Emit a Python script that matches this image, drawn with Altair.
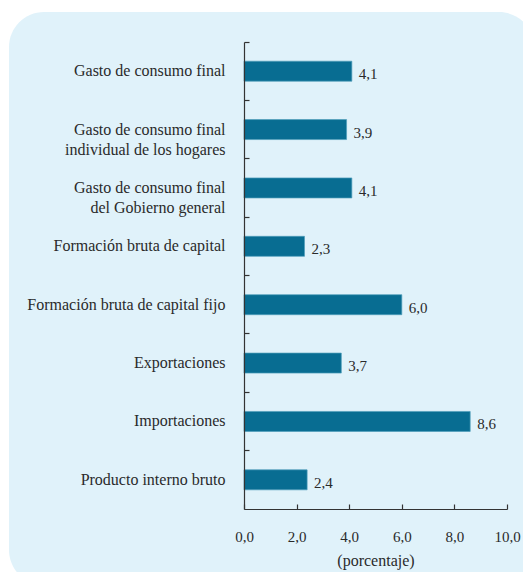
import altair as alt
import pandas as pd

categories = [
    "Gasto de consumo final",
    "Gasto de consumo final|individual de los hogares",
    "Gasto de consumo final|del Gobierno general",
    "Formación bruta de capital",
    "Formación bruta de capital fijo",
    "Exportaciones",
    "Importaciones",
    "Producto interno bruto",
]
values = [4.1, 3.9, 4.1, 2.3, 6.0, 3.7, 8.6, 2.4]
x_ticks = [0, 2, 4, 6, 8, 10]

df = pd.DataFrame({"cat": categories, "val": values})
df["lbl"] = [f"{v:.1f}".replace(".", ",") for v in values]

FONT = "Liberation Serif"
TEXT = "#2a2a2a"
BAR = "#086d92"
PANEL = "#e0f2fa"
AXIS = "#333333"

panel = alt.Chart(alt.Data(values=[{}])).mark_rect(fill=PANEL, cornerRadius=35).encode(
    x=alt.value(-235), x2=alt.value(290), y=alt.value(-30), y2=alt.value(543)
)

yscale = alt.Scale(paddingInner=0, paddingOuter=0)

y_axis = alt.Y(
    "cat:N",
    sort=categories,
    title=None,
    scale=yscale,
    axis=alt.Axis(
        domainColor=AXIS,
        domainWidth=1.2,
        ticks=True,
        tickSize={"expr": "-5"},
        tickColor=AXIS,
        tickWidth=1.2,
        bandPosition=0,
        labelPadding=24,
        labelFont=FONT,
        labelFontSize=16,
        labelColor=TEXT,
        labelExpr="split(datum.label, '|')",
        labelLineHeight=20,
        labelLimit=0,
        labelBound=False,
        grid=False,
        zindex=1,
    ),
)

x_axis = alt.X(
    "val:Q",
    scale=alt.Scale(domain=[0, 10], nice=False),
    axis=alt.Axis(
        values=x_ticks,
        labelExpr="replace(format(datum.value, '.1f'), '.', ',')",
        title="(porcentaje)",
        titleFont=FONT,
        titleFontSize=16,
        titleFontWeight="normal",
        titleColor=TEXT,
        titlePadding=8,
        domainColor=AXIS,
        domainWidth=1.2,
        tickSize={"expr": "-5"},
        tickColor=AXIS,
        tickWidth=1.2,
        labelPadding=25,
        labelFont=FONT,
        labelFontSize=15,
        labelColor=TEXT,
        labelFlush=False,
        grid=False,
        zindex=1,
    ),
)

base = alt.Chart(df)
bars = base.mark_bar(size=20, color=BAR, stroke="#4f9dba", strokeWidth=0.7).encode(
    x=x_axis, y=y_axis
)
text = base.mark_text(
    align="left", baseline="middle", dx=7, dy=3, font=FONT, fontSize=15, color=TEXT
).encode(
    x=alt.X("val:Q"),
    y=alt.Y("cat:N", sort=categories),
    text="lbl:N",
)

chart = (
    alt.layer(panel, bars, text)
    .properties(
        width=263,
        height=467,
        autosize=alt.AutoSizeParams(type="none"),
        padding={"left": 236, "top": 34, "right": 16, "bottom": 63},
        background="white",
    )
    .configure_view(strokeWidth=0)
)

chart.save("out.html", embed_options={"renderer": "svg", "actions": False})
